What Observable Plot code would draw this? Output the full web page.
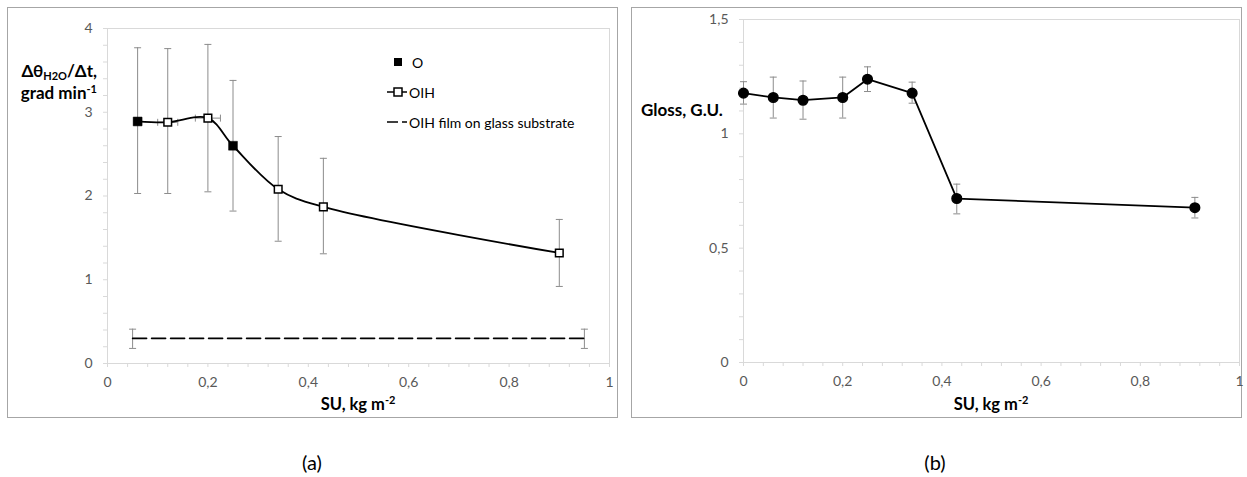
<!DOCTYPE html>
<html><head><meta charset="utf-8">
<script src="https://cdn.jsdelivr.net/npm/d3@7"></script>
<script src="https://cdn.jsdelivr.net/npm/@observablehq/plot@0.6"></script>
<style>
body{margin:0;background:#fff;}
#page{position:relative;width:1247px;height:477px;font-family:Lato,"Open Sans",sans-serif;color:#000;overflow:hidden;}
.panel{position:absolute;border:1.5px solid #a6a6a6;box-sizing:border-box;}
.abs{position:absolute;white-space:nowrap;}
.title{font-weight:bold;font-size:17px;}
.xt{font-weight:bold;font-size:16.5px;transform:translateX(-50%);}
.cap{font-size:20px;transform:translateX(-50%);}
.leg{font-size:14px;color:#000;display:flex;align-items:center;}
sub,sup{line-height:0;}
</style></head>
<body>
<div id="page">
  <div class="panel" style="left:7px;top:7px;width:611px;height:411px;"></div>
  <div class="panel" style="left:631px;top:7px;width:611px;height:411px;"></div>
  <div id="chartA" class="abs" style="left:0;top:0;"></div>
  <div id="chartB" class="abs" style="left:625px;top:0;"></div>

  <div class="abs title" style="left:8px;top:60px;text-align:right;width:89px;line-height:22px;">
    <div>Δθ<sub style="font-size:11px;vertical-align:-3px;">H2O</sub>/Δt,</div>
    <div>grad min<sup style="font-size:11px;vertical-align:6px;">-1</sup></div>
  </div>
  <div class="abs title" style="left:641px;top:99px;">Gloss, G.U.</div>

  <div class="abs xt" style="left:358px;top:394px;">SU, kg m<sup style="font-size:11px;vertical-align:6px;">-2</sup></div>
  <div class="abs xt" style="left:991px;top:394px;">SU, kg m<sup style="font-size:11px;vertical-align:6px;">-2</sup></div>

  <div class="abs cap" style="left:312px;top:450px;">(a)</div>
  <div class="abs cap" style="left:935px;top:450px;">(b)</div>

  <div class="abs leg" style="left:385px;top:52px;height:20px;">
    <svg width="24" height="20"><rect x="9" y="6" width="8" height="8" fill="#000"/></svg><span style="margin-left:3px;">O</span>
  </div>
  <div class="abs leg" style="left:385px;top:82px;height:20px;">
    <svg width="24" height="20"><line x1="2" y1="10" x2="22" y2="10" stroke="#000" stroke-width="1.5"/><rect x="9" y="6" width="8" height="8" fill="#fff" stroke="#000" stroke-width="1.5"/></svg><span>OIH</span>
  </div>
  <div class="abs leg" style="left:385px;top:112px;height:20px;">
    <svg width="24" height="20"><line x1="2" y1="10" x2="22" y2="10" stroke="#000" stroke-width="1.5" stroke-dasharray="11,4"/></svg><span>OIH film on glass substrate</span>
  </div>
</div>
<script>
// ---------- Panel (a) data ----------
const suO      = [0.06, 0.25];
const rateO    = [2.89, 2.60];
const rateOlo  = [2.03, 1.82];
const rateOhi  = [3.77, 3.38];
const suOerr   = [0.008, 0.004];

const suOIH     = [0.12, 0.20, 0.34, 0.43, 0.90];
const rateOIH   = [2.88, 2.93, 2.08, 1.87, 1.32];
const rateOIHlo = [2.03, 2.05, 1.46, 1.31, 0.92];
const rateOIHhi = [3.76, 3.81, 2.71, 2.45, 1.72];
const suOIHerr  = [0.02, 0.025, 0, 0, 0];

const suFilm     = [0.05, 0.95];
const rateFilm   = [0.30, 0.30];
const rateFilmlo = [0.18, 0.18];
const rateFilmhi = [0.41, 0.41];

const xTicksA = [0, 0.2, 0.4, 0.6, 0.8, 1];
const yTicksA = [0, 1, 2, 3, 4];

// ---------- Panel (b) data ----------
const suG    = [0, 0.06, 0.12, 0.20, 0.25, 0.34, 0.43, 0.91];
const gloss  = [1.178, 1.159, 1.147, 1.159, 1.239, 1.178, 0.717, 0.677];
const glossLo= [1.130, 1.069, 1.064, 1.069, 1.185, 1.134, 0.650, 0.632];
const glossHi= [1.228, 1.248, 1.231, 1.248, 1.293, 1.226, 0.780, 0.722];

const xTicksB = [0, 0.2, 0.4, 0.6, 0.8, 1];
const yTicksB = [0, 0.5, 1, 1.5];

// ---------- helpers ----------
const fmt = d => String(+d.toFixed(2)).replace(".", ",");
const gray = "#8c8c8c";
const axisGray = "#d9d9d9";
const capH = {draw(ctx){ ctx.moveTo(-3.5,0); ctx.lineTo(3.5,0); }};
const capV = {draw(ctx){ ctx.moveTo(0,-3.5); ctx.lineTo(0,3.5); }};
const minorX = d3.range(0, 1.0001, 0.04);

const O   = suO.map((x,i)=>({x, y:rateO[i], lo:rateOlo[i], hi:rateOhi[i], ex:suOerr[i]}));
const OIH = suOIH.map((x,i)=>({x, y:rateOIH[i], lo:rateOIHlo[i], hi:rateOIHhi[i], ex:suOIHerr[i]}));
const film= suFilm.map((x,i)=>({x, y:rateFilm[i], lo:rateFilmlo[i], hi:rateFilmhi[i]}));
const all = [...O, ...OIH].sort((a,b)=>a.x-b.x);
const errA = [...all, ...film];
const hErr = all.filter(d=>d.ex>0);

const baseStyle = {fontFamily:"Lato, 'Open Sans', sans-serif", fontSize:"14px", color:"#595959", background:"transparent"};

const chartA = Plot.plot({
  width: 625, height: 420,
  marginLeft: 107, marginRight: 16, marginTop: 28, marginBottom: 57,
  x: {domain:[0,1]}, y: {domain:[0,4]},
  style: baseStyle,
  marks: [
    Plot.frame({stroke: axisGray}),
    Plot.axisX({ticks: minorX, tickSize: 4, tickFormat: () => "", stroke: axisGray, label: null}),
    Plot.axisX({ticks: xTicksA, tickSize: 0, tickPadding: 14, tickFormat: fmt, fill:"#595959", label: null}),
    Plot.axisY({ticks: d3.range(0, 4.0001, 0.2), tickSize: 4, tickFormat: () => "", stroke: axisGray, label: null}),
    Plot.axisY({ticks: yTicksA, tickSize: 0, tickPadding: 15, tickFormat: fmt, fill:"#595959", label: null}),
    // vertical error bars
    Plot.ruleX(errA, {x:"x", y1:"lo", y2:"hi", stroke: gray, strokeWidth: 1}),
    Plot.dot(errA, {x:"x", y:"lo", symbol: capH, fill:"none", stroke: gray, strokeWidth: 1}),
    Plot.dot(errA, {x:"x", y:"hi", symbol: capH, fill:"none", stroke: gray, strokeWidth: 1}),
    // horizontal error bars
    Plot.ruleY(hErr, {y:"y", x1: d=>d.x-d.ex, x2: d=>d.x+d.ex, stroke: gray, strokeWidth: 1}),
    Plot.dot(hErr, {x: d=>d.x-d.ex, y:"y", symbol: capV, fill:"none", stroke: gray, strokeWidth: 1}),
    Plot.dot(hErr, {x: d=>d.x+d.ex, y:"y", symbol: capV, fill:"none", stroke: gray, strokeWidth: 1}),
    // film dashed line
    Plot.line(film, {x:"x", y:"y", stroke:"#000", strokeWidth:1.6, strokeDasharray:"14,5"}),
    // smooth line
    Plot.line(all, {x:"x", y:"y", curve:"catmull-rom", stroke:"#000", strokeWidth:1.8}),
    Plot.dot(OIH, {x:"x", y:"y", symbol:"square", r:4.3, fill:"#fff", stroke:"#000", strokeWidth:1.5}),
    Plot.dot(O, {x:"x", y:"y", symbol:"square", r:5, fill:"#000", stroke:"#000", strokeWidth:0.5})
  ]
});
document.getElementById("chartA").appendChild(chartA);

const G = suG.map((x,i)=>({x, y:gloss[i], lo:glossLo[i], hi:glossHi[i]}));
const chartB = Plot.plot({
  width: 622, height: 420,
  marginLeft: 118, marginRight: 8, marginTop: 19, marginBottom: 58,
  x: {domain:[0,1]}, y: {domain:[0,1.5]},
  style: baseStyle,
  marks: [
    Plot.frame({stroke: axisGray}),
    Plot.axisX({ticks: minorX, tickSize: 4, tickFormat: () => "", stroke: axisGray, label: null}),
    Plot.axisX({ticks: xTicksB, tickSize: 0, tickPadding: 14, tickFormat: fmt, fill:"#595959", label: null}),
    Plot.axisY({ticks: d3.range(0, 1.5001, 0.1), tickSize: 4, tickFormat: () => "", stroke: axisGray, label: null}),
    Plot.axisY({ticks: yTicksB, tickSize: 0, tickPadding: 15, tickFormat: fmt, fill:"#595959", label: null}),
    Plot.ruleX(G, {x:"x", y1:"lo", y2:"hi", stroke: gray, strokeWidth: 1}),
    Plot.dot(G, {x:"x", y:"lo", symbol: capH, fill:"none", stroke: gray, strokeWidth: 1}),
    Plot.dot(G, {x:"x", y:"hi", symbol: capH, fill:"none", stroke: gray, strokeWidth: 1}),
    Plot.line(G, {x:"x", y:"y", stroke:"#000", strokeWidth:1.8}),
    Plot.dot(G, {x:"x", y:"y", r:4.8, fill:"#000", stroke:"#000"})
  ]
});
document.getElementById("chartB").appendChild(chartB);
</script>
</body></html>
